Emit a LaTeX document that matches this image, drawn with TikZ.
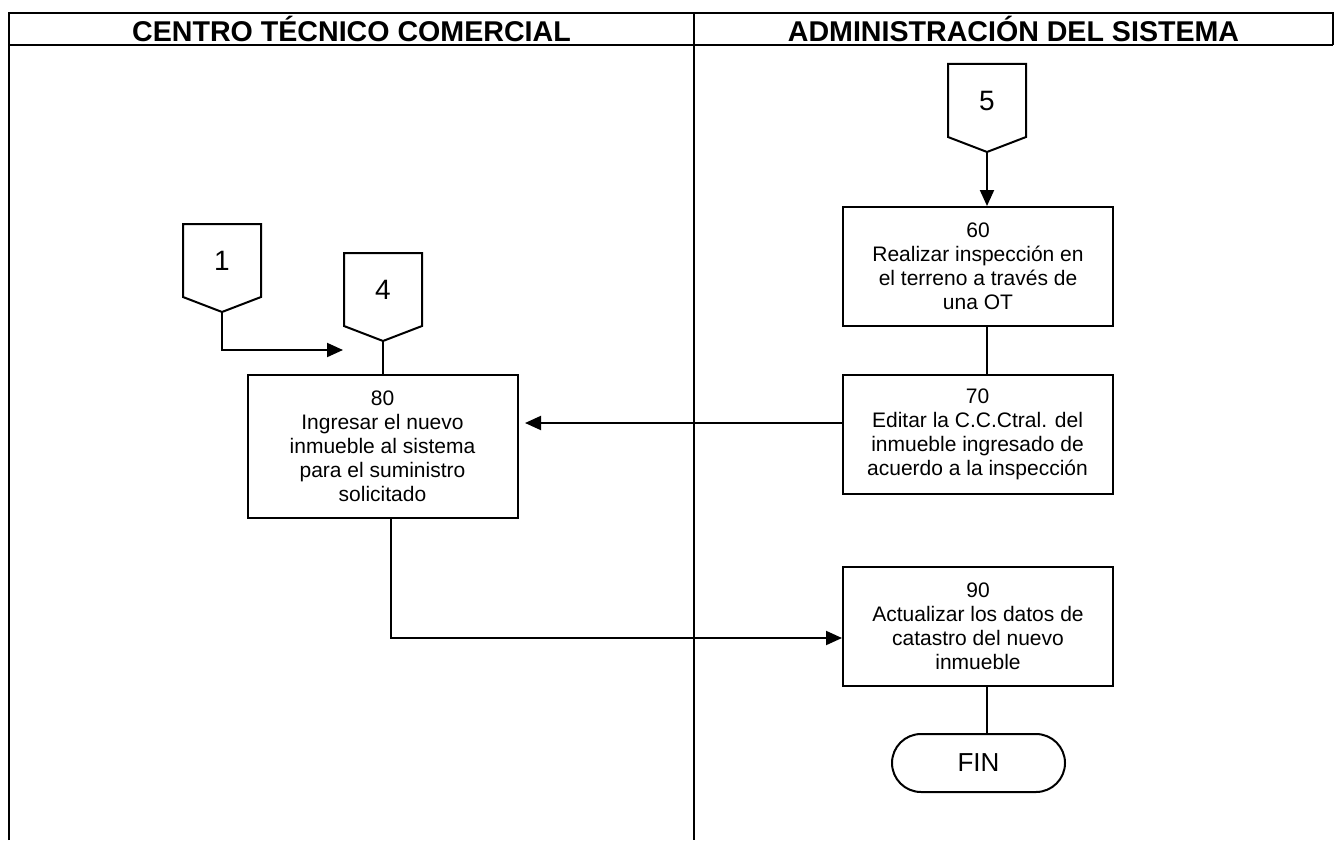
\documentclass[tikz,border=0pt]{standalone}
\usepackage{fontspec}
\setmainfont{Liberation Sans}
\usetikzlibrary{arrows.meta,shapes.symbols}

\begin{document}
\begin{tikzpicture}[x=0.5pt,y=-0.5pt,
    lane/.style={font=\fontsize{14.3}{16}\selectfont\bfseries},
    proc/.style={draw, line width=1pt, minimum width=135pt, minimum height=59.5pt,
      inner sep=0pt, align=center, font=\fontsize{10.5}{12}\selectfont},
    offpg/.style={draw, line width=1pt, shape=signal, signal to=south,
      signal pointer angle=138, minimum width=39pt, minimum height=38pt,
      inner sep=0pt, font=\fontsize{14}{16}\selectfont},
    term/.style={draw, line width=1pt, rounded corners=14.5pt, minimum width=86.5pt,
      minimum height=29pt, font=\fontsize{13}{15}\selectfont},
    arr/.style={-{Triangle[length=8pt,width=7pt]}, line width=1pt}]
  \useasboundingbox (0,0) rectangle (1342,840);
  % table
  \draw[line width=1.2pt] (9,840) -- (9,13) -- (1333,13) -- (1333,45);
  \draw[line width=1.2pt] (9,45) -- (1333,45);
  \draw[line width=1.2pt] (694,13) -- (694,840);
  \node[lane] (lctc) at (351.5,29) {CENTRO TÉCNICO COMERCIAL};
  \node[lane] (lads) at (1013.5,29) {ADMINISTRACIÓN DEL SISTEMA};

  % off-page connectors
  \node[offpg, anchor=north] (c1) at (222,223) {1};
  \node[offpg, anchor=north] (c4) at (383,252) {4};
  \node[offpg, anchor=north] (c5) at (987,63) {5};

  % activities
  \node[proc] (p60) at (978,266.5) {60\\Realizar inspección en\\el terreno a través de\\una OT};
  \node[proc] (p70) at (977.5,434.5) {70\\Editar la C.C.Ctral. del\\inmueble ingresado de\\acuerdo a la inspección};
  \node[proc, minimum height=71.5pt] (p80) at (382.5,446.5) {80\\Ingresar el nuevo\\inmueble al sistema\\para el suministro\\solicitado};
  \node[proc] (p90) at (978,626) {90\\Actualizar los datos de\\catastro del nuevo\\inmueble};
  \node[term] (fin) at (978.5,763) {FIN};

  \coordinate (axis) at (987,0);
  \coordinate (e1) at (343,350);
  \coordinate (t80) at (525,423);
  \coordinate (k80) at (391,638);

  \draw[arr] (c1.south) |- (e1);
  \draw[line width=1pt] (c4.south) -- (c4.south |- p80.north);
  \draw[arr] (c5.south) -- (c5.south |- p60.north);
  \draw[line width=1pt] (p60.south -| axis) -- (p70.north -| axis);
  \draw[arr] (p70.west |- t80) -- (t80);
  \draw[arr] (p80.south -| k80) |- (p90.west |- k80);
  \draw[line width=1pt] (p90.south -| axis) -- (fin.north -| axis);
\end{tikzpicture}
\end{document}
